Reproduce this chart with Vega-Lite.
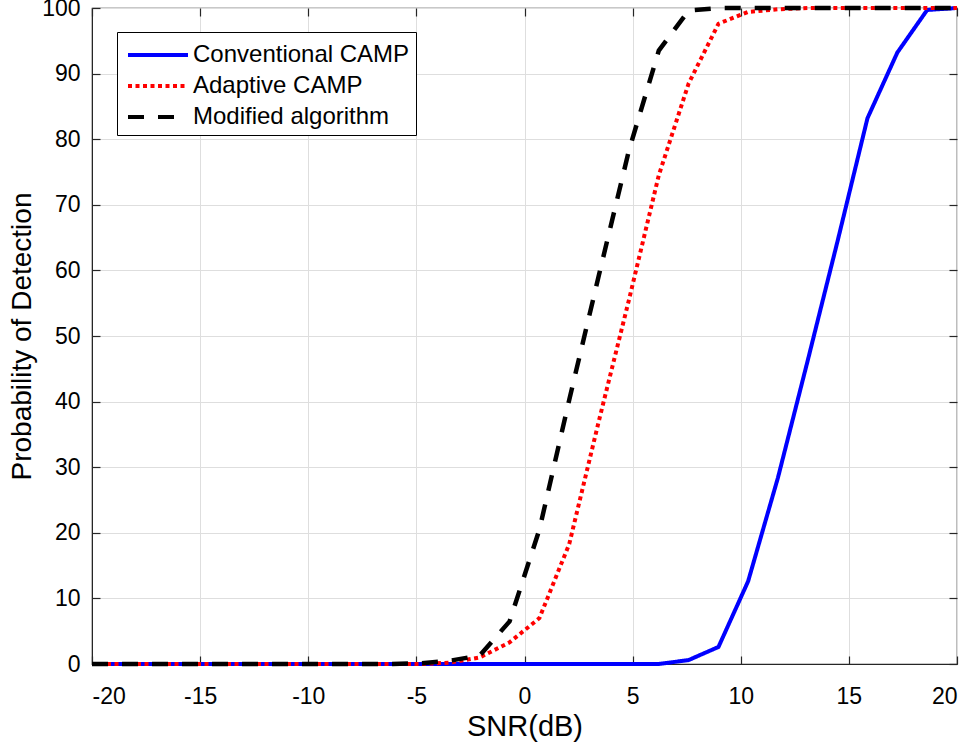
{
  "$schema": "https://vega.github.io/schema/vega-lite/v6.json",
  "width": 865,
  "height": 656,
  "autosize": {"type": "none"},
  "padding": {"left": 92, "top": 8, "right": 12, "bottom": 81},
  "background": "white",
  "config": {
    "font": "Liberation Sans",
    "view": {"stroke": "#262626", "strokeWidth": 1.2},
    "axis": {
      "labelFont": "Liberation Sans",
      "titleFont": "Liberation Sans",
      "labelFontSize": 23,
      "titleFontSize": 29,
      "titleFontWeight": "normal",
      "labelColor": "black",
      "titleColor": "black",
      "tickColor": "#262626",
      "domainColor": "#262626",
      "gridColor": "#dedede",
      "gridWidth": 1,
      "tickSize": -8,
      "tickWidth": 1.2
    },
    "legend": {
      "orient": "none",
      "legendX": 25,
      "legendY": 24,
      "strokeColor": "black",
      "fillColor": "white",
      "padding": 6,
      "labelFont": "Liberation Sans",
      "labelFontSize": 24,
      "labelColor": "black",
      "labelLimit": 0,
      "symbolType": "M-0.8,0H3.2",
      "symbolSize": 900,
      "symbolStrokeWidth": 4,
      "labelOffset": 36,
      "rowPadding": 2
    }
  },
  "data": {
    "values": [
      {"snr": -20, "s": "Conventional CAMP", "pd": 0},
      {"snr": -18.62, "s": "Conventional CAMP", "pd": 0},
      {"snr": -17.24, "s": "Conventional CAMP", "pd": 0},
      {"snr": -15.86, "s": "Conventional CAMP", "pd": 0},
      {"snr": -14.48, "s": "Conventional CAMP", "pd": 0},
      {"snr": -13.1, "s": "Conventional CAMP", "pd": 0},
      {"snr": -11.72, "s": "Conventional CAMP", "pd": 0},
      {"snr": -10.34, "s": "Conventional CAMP", "pd": 0},
      {"snr": -8.97, "s": "Conventional CAMP", "pd": 0},
      {"snr": -7.59, "s": "Conventional CAMP", "pd": 0},
      {"snr": -6.21, "s": "Conventional CAMP", "pd": 0},
      {"snr": -4.83, "s": "Conventional CAMP", "pd": 0},
      {"snr": -3.45, "s": "Conventional CAMP", "pd": 0},
      {"snr": -2.07, "s": "Conventional CAMP", "pd": 0},
      {"snr": -0.69, "s": "Conventional CAMP", "pd": 0},
      {"snr": 0.69, "s": "Conventional CAMP", "pd": 0},
      {"snr": 2.07, "s": "Conventional CAMP", "pd": 0},
      {"snr": 3.45, "s": "Conventional CAMP", "pd": 0},
      {"snr": 4.83, "s": "Conventional CAMP", "pd": 0},
      {"snr": 6.21, "s": "Conventional CAMP", "pd": 0},
      {"snr": 7.59, "s": "Conventional CAMP", "pd": 0.6},
      {"snr": 8.97, "s": "Conventional CAMP", "pd": 2.6},
      {"snr": 10.34, "s": "Conventional CAMP", "pd": 12.6},
      {"snr": 11.72, "s": "Conventional CAMP", "pd": 28.4},
      {"snr": 13.1, "s": "Conventional CAMP", "pd": 46.3},
      {"snr": 14.48, "s": "Conventional CAMP", "pd": 64.5},
      {"snr": 15.86, "s": "Conventional CAMP", "pd": 83.2},
      {"snr": 17.24, "s": "Conventional CAMP", "pd": 93.2},
      {"snr": 18.62, "s": "Conventional CAMP", "pd": 99.7},
      {"snr": 20, "s": "Conventional CAMP", "pd": 100},
      {"snr": -20, "s": "Adaptive CAMP", "pd": 0},
      {"snr": -18.62, "s": "Adaptive CAMP", "pd": 0},
      {"snr": -17.24, "s": "Adaptive CAMP", "pd": 0},
      {"snr": -15.86, "s": "Adaptive CAMP", "pd": 0},
      {"snr": -14.48, "s": "Adaptive CAMP", "pd": 0},
      {"snr": -13.1, "s": "Adaptive CAMP", "pd": 0},
      {"snr": -11.72, "s": "Adaptive CAMP", "pd": 0},
      {"snr": -10.34, "s": "Adaptive CAMP", "pd": 0},
      {"snr": -8.97, "s": "Adaptive CAMP", "pd": 0},
      {"snr": -7.59, "s": "Adaptive CAMP", "pd": 0},
      {"snr": -6.21, "s": "Adaptive CAMP", "pd": 0},
      {"snr": -4.83, "s": "Adaptive CAMP", "pd": 0},
      {"snr": -3.45, "s": "Adaptive CAMP", "pd": 0.2},
      {"snr": -2.07, "s": "Adaptive CAMP", "pd": 1.0},
      {"snr": -0.69, "s": "Adaptive CAMP", "pd": 3.3},
      {"snr": 0.69, "s": "Adaptive CAMP", "pd": 7.0},
      {"snr": 2.07, "s": "Adaptive CAMP", "pd": 18.3},
      {"snr": 3.45, "s": "Adaptive CAMP", "pd": 37.2},
      {"snr": 4.83, "s": "Adaptive CAMP", "pd": 55.5},
      {"snr": 6.21, "s": "Adaptive CAMP", "pd": 74.5},
      {"snr": 7.59, "s": "Adaptive CAMP", "pd": 88.5},
      {"snr": 8.97, "s": "Adaptive CAMP", "pd": 97.6},
      {"snr": 10.34, "s": "Adaptive CAMP", "pd": 99.4},
      {"snr": 11.72, "s": "Adaptive CAMP", "pd": 99.8},
      {"snr": 13.1, "s": "Adaptive CAMP", "pd": 100},
      {"snr": 14.48, "s": "Adaptive CAMP", "pd": 100},
      {"snr": 15.86, "s": "Adaptive CAMP", "pd": 100},
      {"snr": 17.24, "s": "Adaptive CAMP", "pd": 100},
      {"snr": 18.62, "s": "Adaptive CAMP", "pd": 100},
      {"snr": 20, "s": "Adaptive CAMP", "pd": 100},
      {"snr": -20, "s": "Modified algorithm", "pd": 0},
      {"snr": -18.62, "s": "Modified algorithm", "pd": 0},
      {"snr": -17.24, "s": "Modified algorithm", "pd": 0},
      {"snr": -15.86, "s": "Modified algorithm", "pd": 0},
      {"snr": -14.48, "s": "Modified algorithm", "pd": 0},
      {"snr": -13.1, "s": "Modified algorithm", "pd": 0},
      {"snr": -11.72, "s": "Modified algorithm", "pd": 0},
      {"snr": -10.34, "s": "Modified algorithm", "pd": 0},
      {"snr": -8.97, "s": "Modified algorithm", "pd": 0},
      {"snr": -7.59, "s": "Modified algorithm", "pd": 0},
      {"snr": -6.21, "s": "Modified algorithm", "pd": 0},
      {"snr": -4.83, "s": "Modified algorithm", "pd": 0.1},
      {"snr": -3.45, "s": "Modified algorithm", "pd": 0.5},
      {"snr": -2.07, "s": "Modified algorithm", "pd": 1.3},
      {"snr": -0.69, "s": "Modified algorithm", "pd": 6.5},
      {"snr": 0.69, "s": "Modified algorithm", "pd": 20.5},
      {"snr": 2.07, "s": "Modified algorithm", "pd": 40.3},
      {"snr": 3.45, "s": "Modified algorithm", "pd": 59.4},
      {"snr": 4.83, "s": "Modified algorithm", "pd": 78.3},
      {"snr": 6.21, "s": "Modified algorithm", "pd": 93.5},
      {"snr": 7.59, "s": "Modified algorithm", "pd": 99.6},
      {"snr": 8.97, "s": "Modified algorithm", "pd": 100},
      {"snr": 10.34, "s": "Modified algorithm", "pd": 100},
      {"snr": 11.72, "s": "Modified algorithm", "pd": 100},
      {"snr": 13.1, "s": "Modified algorithm", "pd": 100},
      {"snr": 14.48, "s": "Modified algorithm", "pd": 100},
      {"snr": 15.86, "s": "Modified algorithm", "pd": 100},
      {"snr": 17.24, "s": "Modified algorithm", "pd": 100},
      {"snr": 18.62, "s": "Modified algorithm", "pd": 100},
      {"snr": 20, "s": "Modified algorithm", "pd": 100}
    ]
  },
  "encoding": {
    "x": {"field": "snr", "type": "quantitative", "scale": {"domain": [-20, 20], "nice": false}},
    "y": {"field": "pd", "type": "quantitative", "scale": {"domain": [0, 100], "nice": false}},
    "color": {"field": "s", "type": "nominal", "title": null,
      "scale": {"domain": ["Conventional CAMP", "Adaptive CAMP", "Modified algorithm"], "range": ["#0000ff", "#ff0000", "#000000"]}},
    "strokeDash": {"field": "s", "type": "nominal", "title": null,
      "scale": {"domain": ["Conventional CAMP", "Adaptive CAMP", "Modified algorithm"], "range": [[1, 0], [4, 3.5], [16, 14]]}}
  },
  "layer": [
    {
      "mark": {"type": "line", "opacity": 0},
      "encoding": {
        "x": {"field": "snr", "type": "quantitative", "axis": {"orient": "top", "labels": false, "title": null, "grid": false, "values": [-20, -15, -10, -5, 0, 5, 10, 15, 20], "domain": false}},
        "y": {"field": "pd", "type": "quantitative", "axis": {"orient": "right", "labels": false, "title": null, "grid": false, "values": [0, 10, 20, 30, 40, 50, 60, 70, 80, 90, 100], "domain": false}},
        "color": null,
        "strokeDash": null
      }
    },
    {
      "transform": [{"filter": "datum.s === 'Conventional CAMP'"}],
      "mark": {"type": "line", "strokeWidth": 4, "strokeCap": "butt"},
      "encoding": {
        "x": {"field": "snr", "type": "quantitative", "title": "SNR(dB)", "axis": {"grid": true, "values": [-20, -15, -10, -5, 0, 5, 10, 15, 20], "labelExpr": "datum.value < 0 ? '-' + abs(datum.value) : '' + datum.value", "labelPadding": 29, "titlePadding": 4}},
        "y": {"field": "pd", "type": "quantitative", "title": "Probability of Detection", "axis": {"grid": true, "values": [0, 10, 20, 30, 40, 50, 60, 70, 80, 90, 100], "labelPadding": 20, "titlePadding": 5, "titleFontSize": 28}}
      }
    },
    {
      "transform": [{"filter": "datum.s === 'Adaptive CAMP'"}],
      "mark": {"type": "line", "strokeWidth": 4, "strokeCap": "butt"},
      "encoding": {"x": {"field": "snr", "type": "quantitative", "axis": null}, "y": {"field": "pd", "type": "quantitative", "axis": null}}
    },
    {
      "transform": [{"filter": "datum.s === 'Modified algorithm'"}],
      "mark": {"type": "line", "strokeWidth": 4.5, "strokeCap": "butt"},
      "encoding": {"x": {"field": "snr", "type": "quantitative", "axis": null}, "y": {"field": "pd", "type": "quantitative", "axis": null}}
    }
  ],
  "resolve": {"axis": {"x": "independent", "y": "independent"}}
}
